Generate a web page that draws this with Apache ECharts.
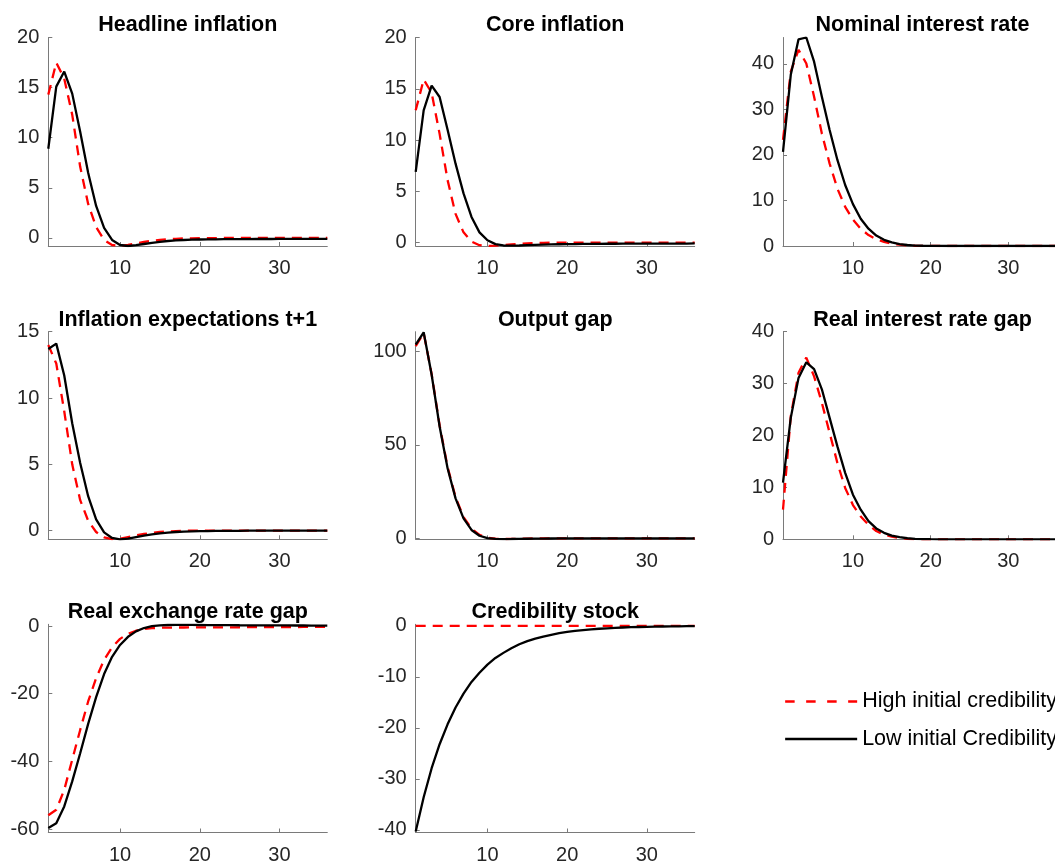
<!DOCTYPE html>
<html>
<head>
<meta charset="utf-8">
<script src="https://cdn.jsdelivr.net/npm/echarts@6/dist/echarts.min.js"></script>
<style>
html,body{margin:0;padding:0;background:#ffffff;}
#chart{width:1055px;height:865px;}
</style>
</head>
<body>
<div id="chart"></div>
<script>
// ---- data ----
const periods = [1,2,3,4,5,6,7,8,9,10,11,12,13,14,15,16,17,18,19,20,21,22,23,24,25,26,27,28,29,30,31,32,33,34,35,36];
const seriesNames = ['High initial credibility', 'Low initial Credibility'];
const panelTitles = ['Headline inflation','Core inflation','Nominal interest rate','Inflation expectations t+1','Output gap','Real interest rate gap','Real exchange rate gap','Credibility stock'];

const headlineHigh = [14.3,17.5,15.9,12.3,7.1,3.4,1.1,-0.2,-0.7,-0.78,-0.7,-0.55,-0.4,-0.28,-0.19,-0.12,-0.08,-0.05,-0.03,-0.02,-0.01,-0.01,0,0,0,0,0,0,0,0,0,0,0,0,0,0];
const headlineLow = [8.9,15.1,16.6,14.4,10.6,6.5,3.2,1.0,-0.2,-0.7,-0.8,-0.72,-0.6,-0.48,-0.38,-0.3,-0.24,-0.2,-0.17,-0.15,-0.14,-0.13,-0.12,-0.12,-0.11,-0.11,-0.1,-0.1,-0.1,-0.09,-0.09,-0.09,-0.08,-0.08,-0.08,-0.08];

const coreHigh = [12.9,15.9,14.6,10.6,6.1,2.8,1.0,0.1,-0.25,-0.32,-0.3,-0.24,-0.17,-0.11,-0.07,-0.04,-0.02,-0.01,0,0,0,0,0,0,0,0,0,0,0,0,0,0,0,0,0,0];
const coreLow = [6.9,12.9,15.3,14.2,11.0,7.7,4.8,2.5,1.0,0.23,-0.15,-0.28,-0.3,-0.28,-0.25,-0.22,-0.2,-0.18,-0.16,-0.15,-0.14,-0.13,-0.12,-0.12,-0.11,-0.11,-0.1,-0.1,-0.1,-0.1,-0.09,-0.09,-0.09,-0.09,-0.09,-0.08];

const nominalHigh = [23.3,38.3,43.1,40.1,32.8,24.7,18.1,12.6,8.6,5.8,3.8,2.4,1.5,0.9,0.5,0.28,0.14,0.06,0.02,0.01,0,0,0,0,0,0,0,0,0,0,0,0,0,0,0,0];
const nominalLow = [20.7,37.6,45.4,45.8,40.5,32.8,25.5,18.9,13.4,9.2,6.0,3.8,2.3,1.35,0.78,0.42,0.22,0.1,0.05,0.02,0.01,0,0,0,0,0,0,0,0,0,0,0,0,0,0,0];

const expHigh = [14.0,12.6,9.0,5.0,2.3,0.75,-0.1,-0.5,-0.63,-0.6,-0.48,-0.36,-0.25,-0.16,-0.1,-0.06,-0.03,-0.01,0,0,0,0,0,0,0,0,0,0,0,0,0,0,0,0,0,0];
const expLow = [13.7,14.1,11.7,8.1,5.1,2.6,0.85,-0.13,-0.55,-0.65,-0.6,-0.48,-0.37,-0.28,-0.2,-0.14,-0.1,-0.07,-0.05,-0.04,-0.03,-0.02,-0.02,-0.01,-0.01,0,0,0,0,0,0,0,0,0,0,0];

const outputHigh = [102.8,109.8,87.8,60.5,38.2,22.0,11.4,5.2,1.9,0.4,-0.2,-0.35,-0.3,-0.2,-0.1,-0.05,0,0.02,0.03,0.03,0.03,0.02,0.02,0.02,0.01,0.01,0,0,0,0,0,0,0,0,0,0];
const outputLow = [103.6,110.2,87.5,59.8,37.5,21.4,10.7,4.5,1.4,0.1,-0.3,-0.4,-0.35,-0.28,-0.2,-0.14,-0.1,-0.07,-0.05,-0.03,-0.02,-0.01,0,0,0,0,0,0,0,0,0,0,0,0,0,0];

const realRateHigh = [5.7,23.7,32.1,35.0,31.4,26.3,20.5,14.7,9.9,6.6,4.4,2.8,1.6,0.9,0.5,0.25,0.1,0.04,0.01,0,0,0,0,0,0,0,0,0,0,0,0,0,0,0,0,0];
const realRateLow = [10.9,23.4,31.1,34.1,32.8,28.9,23.4,17.9,12.8,8.6,5.7,3.5,2.1,1.25,0.7,0.4,0.2,0.1,0.05,0.02,0,0,0,0,0,0,0,0,0,0,0,0,0,0,0,0];

const rerHigh = [-55.9,-54.3,-48.4,-39.5,-30.7,-22.3,-15.4,-10.0,-6.3,-3.8,-2.3,-1.4,-0.9,-0.65,-0.52,-0.47,-0.45,-0.44,-0.43,-0.42,-0.41,-0.4,-0.39,-0.38,-0.37,-0.36,-0.35,-0.34,-0.33,-0.32,-0.31,-0.3,-0.29,-0.28,-0.27,-0.26];
const rerLow = [-59.7,-58.3,-53.3,-45.9,-37.6,-28.9,-21.0,-14.2,-9.1,-5.6,-3.2,-1.6,-0.6,-0.05,0.2,0.3,0.33,0.33,0.32,0.3,0.28,0.27,0.25,0.24,0.22,0.21,0.2,0.19,0.18,0.17,0.16,0.15,0.14,0.13,0.12,0.11];

const credHigh = [0,0,0,0,0,0,0,0,0,0,0,0,0,0,0,0,0,0,0,0,0,0,0,0,0,0,0,0,0,0,0,0,0,0,0,0];
const credLow = [-40.3,-33.6,-27.9,-23.2,-19.3,-16.0,-13.3,-11.0,-9.2,-7.6,-6.3,-5.3,-4.4,-3.6,-3.0,-2.5,-2.1,-1.75,-1.45,-1.2,-1.0,-0.83,-0.69,-0.57,-0.48,-0.4,-0.33,-0.27,-0.23,-0.19,-0.16,-0.13,-0.11,-0.09,-0.07,-0.06];

const xTicks = [10, 20, 30];
const yTicks = [
  [0,5,10,15,20],
  [0,5,10,15,20],
  [0,10,20,30,40],
  [0,5,10,15],
  [0,50,100],
  [0,10,20,30,40],
  [-60,-40,-20,0],
  [-40,-30,-20,-10,0]
];
const highData = [headlineHigh, coreHigh, nominalHigh, expHigh, outputHigh, realRateHigh, rerHigh, credHigh];
const lowData = [headlineLow, coreLow, nominalLow, expLow, outputLow, realRateLow, rerLow, credLow];

// ---- layout / style ----
const yRanges = [[-0.8,20],[-0.33,20],[0,45.8],[-0.65,15],[-0.5,110.5],[0,40],[-61,0.5],[-40.5,0.3]];
const colLeft = [48.3, 415.7, 783];
const plotW = 279;
const rowTop = [37.5, 331.7, 624.3];
const rowH = [208.5, 207.6, 209];
const FONT = '"Liberation Sans", Arial, Helvetica, sans-serif';
const AXIS_COLOR = '#7a7a7a';
const TEXT_COLOR = '#262626';

const grids = [], xAxes = [], yAxes = [], titles = [], series = [];
for (let i = 0; i < 8; i++) {
  const r = Math.floor(i / 3), c = i % 3;
  grids.push({left: colLeft[c], top: rowTop[r], width: plotW, height: rowH[r], containLabel: false});
  xAxes.push({
    type: 'value', gridIndex: i, min: 1, max: 36,
    axisLine: {show: true, onZero: false, lineStyle: {color: AXIS_COLOR, width: 1}},
    axisTick: {show: true, inside: true, length: 4, customValues: xTicks, lineStyle: {color: AXIS_COLOR}},
    axisLabel: {show: true, customValues: xTicks, fontSize: 20, color: TEXT_COLOR, fontFamily: FONT, margin: 12.5},
    splitLine: {show: false}
  });
  yAxes.push({
    type: 'value', gridIndex: i, min: yRanges[i][0], max: yRanges[i][1],
    axisLine: {show: true, onZero: false, lineStyle: {color: AXIS_COLOR, width: 1}},
    axisTick: {show: true, inside: true, length: 4, customValues: yTicks[i], lineStyle: {color: AXIS_COLOR}},
    axisLabel: {show: true, customValues: yTicks[i], fontSize: 20, color: TEXT_COLOR, fontFamily: FONT, margin: 9},
    splitLine: {show: false}
  });
  titles.push({
    text: panelTitles[i], left: colLeft[c] + plotW / 2, top: rowTop[r] - 23, textAlign: 'center', padding: 0,
    textStyle: {fontSize: 21.5, fontWeight: 'bold', color: '#000000', fontFamily: FONT}
  });
  series.push({
    name: seriesNames[0], type: 'line', xAxisIndex: i, yAxisIndex: i,
    data: periods.map((t, k) => [t, highData[i][k]]),
    symbol: 'none', smooth: false, z: 2,
    itemStyle: {color: '#ff0000'},
    lineStyle: {color: '#ff0000', width: 2.3, type: [10, 7]}
  });
  series.push({
    name: seriesNames[1], type: 'line', xAxisIndex: i, yAxisIndex: i,
    data: periods.map((t, k) => [t, lowData[i][k]]),
    symbol: 'none', smooth: false, z: 3,
    itemStyle: {color: '#000000'},
    lineStyle: {color: '#000000', width: 2.3, type: 'solid'}
  });
}

const chart = echarts.init(document.getElementById('chart'), null, {renderer: 'canvas'});
chart.setOption({
  animation: false,
  backgroundColor: '#ffffff',
  title: titles,
  grid: grids,
  xAxis: xAxes,
  yAxis: yAxes,
  legend: {
    orient: 'vertical', left: 784, top: 690.5, padding: 0,
    itemWidth: 72, itemHeight: 20, itemGap: 15.5,
    textStyle: {fontSize: 21.5, color: '#000000', fontFamily: FONT},
    data: [
      {name: seriesNames[0], itemStyle: {opacity: 0, color: 'rgba(0,0,0,0)', borderWidth: 0},
       lineStyle: {color: '#ff0000', width: 2.3, type: [9.5, 11.5], opacity: 1}},
      {name: seriesNames[1], itemStyle: {opacity: 0, color: 'rgba(0,0,0,0)', borderWidth: 0},
       lineStyle: {color: '#000000', width: 2.3, type: 'solid', opacity: 1}}
    ],
    selectedMode: false
  },
  series: series
});
</script>
</body>
</html>
